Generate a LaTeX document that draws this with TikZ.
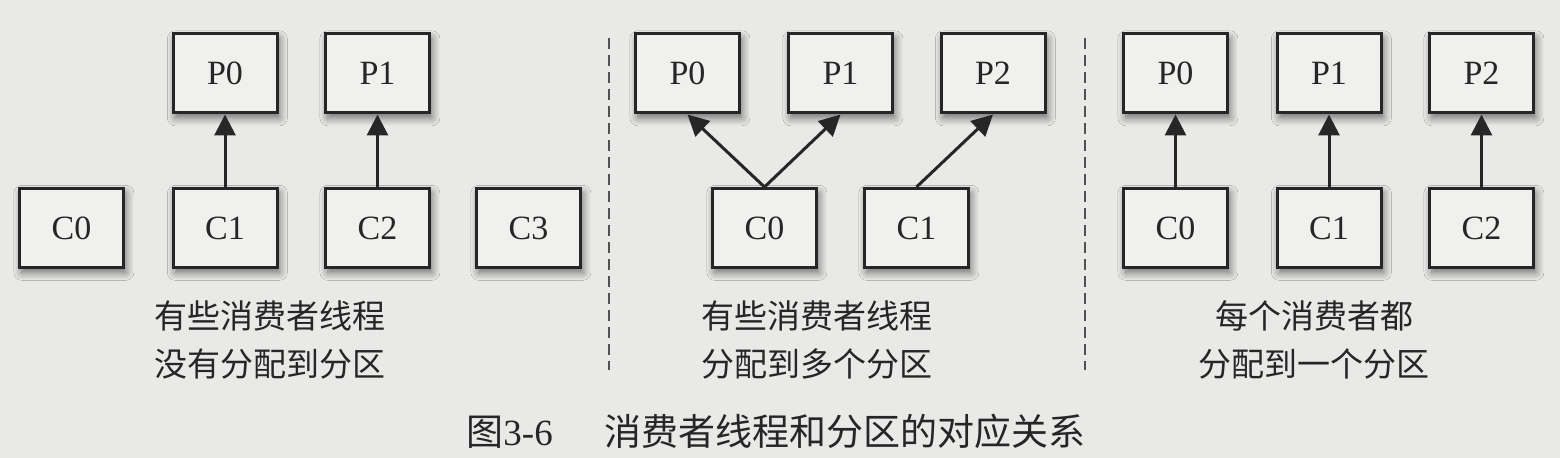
\documentclass[tikz,border=0pt]{standalone}
\usepackage{fontspec}
\setmainfont{Liberation Serif}
\newfontfamily\cjk{Noto Sans CJK SC}
\usetikzlibrary{arrows.meta,shadows.blur}
\definecolor{paper}{RGB}{233,233,231}
\definecolor{boxfill}{RGB}{240,240,238}
\definecolor{ink}{RGB}{38,38,38}
\begin{document}
\begin{tikzpicture}[x=0.5pt,y=-0.5pt,inner sep=0pt,
  box/.style={draw=ink, line width=1.5pt, fill=boxfill, minimum width=52pt, minimum height=39.5pt,
    font=\fontsize{17}{18}\selectfont, text=ink,
    blur shadow={shadow xshift=1.2pt, shadow yshift=-2.4pt, shadow blur radius=4pt, shadow blur steps=8, shadow opacity=55}},
  link/.style={draw=ink, line width=1.5pt, -{Triangle[length=10.5pt,width=10.5pt]}},
  sep/.style={draw=ink!80, line width=1pt, dash pattern=on 5.5pt off 3pt},
  txt/.style={text=ink, font=\fontsize{16.5}{24}\selectfont\cjk, align=center}]

\useasboundingbox[fill=paper] (0,0) rectangle (1560,458);

% some consumers get no partition
\node[box](lp0) at (225,73.5) {P0};
\node[box](lp1) at (377.5,73.5) {P1};
\node[box](lc0) at (71.5,228) {C0};
\node[box](lc1) at (225,228) {C1};
\node[box](lc2) at (377.5,228) {C2};
\node[box](lc3) at (528.5,228) {C3};
\draw[link] (lc1) -- (lp0);
\draw[link] (lc2) -- (lp1);
\node[txt](lt) at (270,340) {有些消费者线程\\没有分配到分区};

\coordinate(s1a) at (609,38);
\coordinate(s1b) at (609,370);
\draw[sep] (s1a) -- (s1b);

% some consumers get more than one
\node[box](mp0) at (687.5,73.5) {P0};
\node[box](mp1) at (840.5,73.5) {P1};
\node[box](mp2) at (993,73.5) {P2};
\node[box](mc0) at (764.5,228) {C0};
\node[box](mc1) at (916.5,228) {C1};
\draw[link] (mc0.north) -- (mp0.south);
\draw[link] (mc0.north) -- (mp1.south);
\draw[link] (mc1.north) -- (mp2.south);
\node[txt](mt) at (817,340) {有些消费者线程\\分配到多个分区};

\coordinate(s2a) at (1085,38);
\coordinate(s2b) at (1085,370);
\draw[sep] (s2a) -- (s2b);

% one each
\node[box](rp0) at (1175.5,73.5) {P0};
\node[box](rp1) at (1329,73.5) {P1};
\node[box](rp2) at (1481.5,73.5) {P2};
\node[box](rc0) at (1175.5,228) {C0};
\node[box](rc1) at (1329,228) {C1};
\node[box](rc2) at (1481.5,228) {C2};
\draw[link] (rc0) -- (rp0);
\draw[link] (rc1) -- (rp1);
\draw[link] (rc2) -- (rp2);
\node[txt](rt) at (1314,340) {每个消费者都\\分配到一个分区};

\node[text=ink, font=\fontsize{18.5}{20}\selectfont](cap) at (776,431) {{\cjk 图}3-6\hspace{1.4em}{\cjk 消费者线程和分区的对应关系}};

\end{tikzpicture}
\end{document}
